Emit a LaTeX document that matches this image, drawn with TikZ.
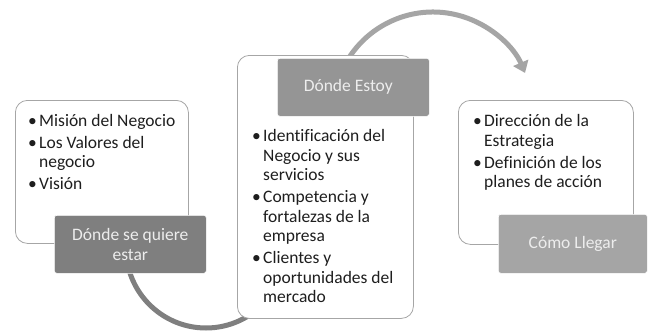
\documentclass[tikz,border=0pt]{standalone}
\usepackage{fontspec}
\setmainfont{Carlito}[Ligatures=NoCommon]
\usetikzlibrary{arrows.meta}
\definecolor{boxline}{HTML}{A6A6A6}
\definecolor{labA}{HTML}{7F7F7F}
\definecolor{labB}{HTML}{959595}
\definecolor{labC}{HTML}{A5A5A5}
\definecolor{arcA}{HTML}{7F7F7F}
\definecolor{arcB}{HTML}{A5A5A5}
\definecolor{txt}{HTML}{1E1E1E}
\definecolor{labtxt}{HTML}{EDEDED}
\newcommand{\bul}{\makebox[11pt][l]{\textbullet}}
\newcommand{\ind}{\hspace*{11pt}}
\begin{document}
\begin{tikzpicture}[x=1pt,y=-1pt,
  infobox/.style={draw=boxline, line width=0.8pt, fill=white, rounded corners=12pt, anchor=north west, inner sep=0pt},
  labelbox/.style={draw=white, line width=0.6pt, rounded corners=2.5pt, text=labtxt, align=center, anchor=north west, inner sep=0pt, font=\fontsize{17.5}{20}\selectfont},
  bodytext/.style={anchor=base west, inner sep=0pt, text=txt, font=\fontsize{17.5}{19.5}\selectfont},
  flowarc/.style={line width=5pt}]
\useasboundingbox (0,0) rectangle (648,332);
\fill[white] (0,0) rectangle (648,332);
% arcs (drawn first, boxes hide their ends)
\coordinate (arcAstart) at (126,248);
\coordinate (arcBstart) at (339,77.8);
\draw[arcA, flowarc] (arcAstart) arc[start angle=180, end angle=40, radius=80];
\draw[arcB, flowarc, -{Triangle[width=16pt,length=11pt]}] (arcBstart) arc[start angle=-160, end angle=-23, radius=100];
% boxes
\node[infobox, minimum width=173pt, minimum height=143pt] (box1) at (15,100) {};
\node[infobox, minimum width=176pt, minimum height=263pt] (box2) at (237,55) {};
\node[infobox, minimum width=175pt, minimum height=144pt] (box3) at (458,100) {};
% labels
\node[labelbox, fill=labA, minimum width=152pt, minimum height=58pt] (lab1) at (54,215) {Dónde se quiere\\estar};
\node[labelbox, fill=labB, minimum width=152pt, minimum height=58pt] (lab2) at (277,58) {\hspace*{-10pt}Dónde Estoy};
\node[labelbox, fill=labC, minimum width=149pt, minimum height=59pt] (lab3) at (498,214) {Cómo Llegar};
% body texts
\node[bodytext] (t1) at (28,126) {\begin{tabular}[t]{@{}l@{}}\bul Misión del Negocio\\[2.5pt] \bul Los Valores del\\ \ind negocio\\[2.5pt] \bul Visión\end{tabular}};
\node[bodytext] (t2) at (252,141.7) {\begin{tabular}[t]{@{}l@{}}\bul Identificación del\\ \ind Negocio y sus\\ \ind servicios\\[2.5pt] \bul Competencia y\\ \ind fortalezas de la\\ \ind empresa\\[2.5pt] \bul Clientes y\\ \ind oportunidades del\\ \ind mercado\end{tabular}};
\node[bodytext] (t3) at (473,126.7) {\begin{tabular}[t]{@{}l@{}}\bul Dirección de la\\ \ind Estrategia\\[2.5pt] \bul Definición de los\\ \ind planes de acción\end{tabular}};
\end{tikzpicture}
\end{document}
